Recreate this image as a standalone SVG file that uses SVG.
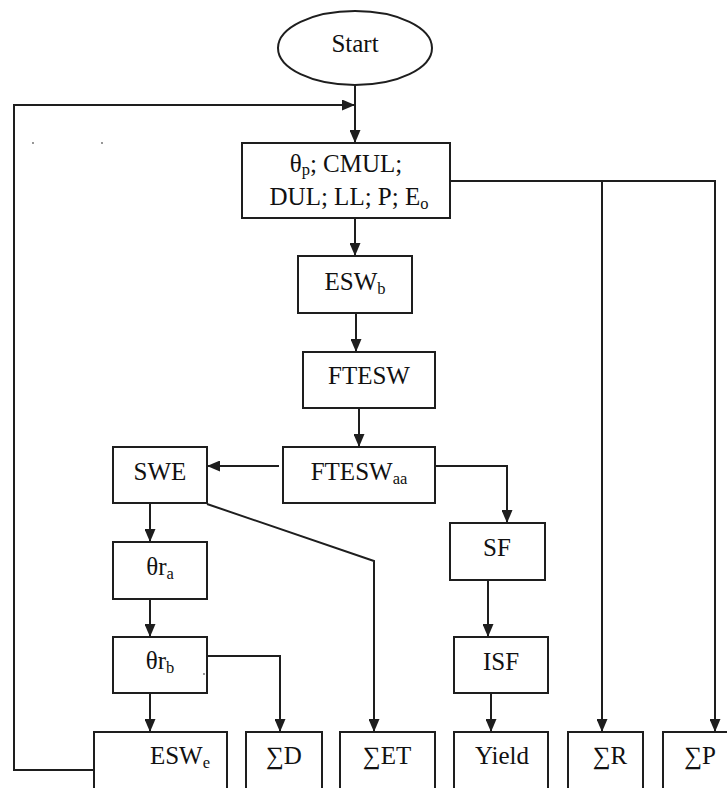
<svg xmlns="http://www.w3.org/2000/svg" width="727" height="788" viewBox="0 0 727 788">
<defs>
<style>
.box{fill:#fff;stroke:#1e1e1e;stroke-width:2}
.ln{fill:none;stroke:#1e1e1e;stroke-width:2}
.t{font-family:"Liberation Serif","Times New Roman",serif;font-size:25px;fill:#111;text-anchor:middle}
.s{font-size:16.5px}
.dot{fill:#666}
</style>
<marker id="ah" viewBox="0 0 13 11" refX="13" refY="5.5" markerWidth="13" markerHeight="11" markerUnits="userSpaceOnUse" orient="auto">
<path d="M0,0 L13,5.5 L0,11 z" fill="#1e1e1e"/>
</marker>
</defs>
<rect width="727" height="788" fill="#fff"/>

<g id="connectors">
<line class="ln" x1="355" y1="85" x2="355" y2="143" marker-end="url(#ah)"/>
<polyline class="ln" points="93,770 14,770 14,105 355,105" marker-end="url(#ah)"/>
<polyline class="ln" points="450,181 715,181 715,732" marker-end="url(#ah)"/>
<line class="ln" x1="602" y1="181" x2="602" y2="732" marker-end="url(#ah)"/>
<line class="ln" x1="355" y1="218" x2="355" y2="256" marker-end="url(#ah)"/>
<line class="ln" x1="356" y1="313" x2="356" y2="352" marker-end="url(#ah)"/>
<line class="ln" x1="359" y1="408" x2="359" y2="447" marker-end="url(#ah)"/>
<line class="ln" x1="279" y1="466" x2="207" y2="466" marker-end="url(#ah)"/>
<polyline class="ln" points="431,466 507,466 507,523" marker-end="url(#ah)"/>
<line class="ln" x1="150" y1="503" x2="150" y2="542" marker-end="url(#ah)"/>
<polyline class="ln" points="207,504 374,561 374,732" marker-end="url(#ah)"/>
<line class="ln" x1="150" y1="599" x2="150" y2="637" marker-end="url(#ah)"/>
<line class="ln" x1="150" y1="693" x2="150" y2="732" marker-end="url(#ah)"/>
<polyline class="ln" points="203,656 280,656 280,732" marker-end="url(#ah)"/>
<line class="ln" x1="488" y1="580" x2="488" y2="637" marker-end="url(#ah)"/>
<line class="ln" x1="491" y1="693" x2="491" y2="732" marker-end="url(#ah)"/>
</g>

<g id="start">
<ellipse class="box" cx="355" cy="48" rx="77" ry="37"/>
<text class="t" x="355" y="52">Start</text>
</g>
<g id="inputs">
<rect class="box" x="242" y="143" width="208" height="75"/>
<text class="t" x="346" y="172">θ<tspan class="s" dy="3">p</tspan><tspan dy="-3">; CMUL;</tspan></text>
<text class="t" x="349" y="205">DUL; LL; P; E<tspan class="s" dy="4">o</tspan></text>
</g>
<g id="eswb">
<rect class="box" x="298" y="256" width="114" height="57"/>
<text class="t" x="355" y="290">ESW<tspan class="s" dy="4">b</tspan></text>
</g>
<g id="ftesw">
<rect class="box" x="303" y="352" width="132" height="56"/>
<text class="t" x="369" y="384">FTESW</text>
</g>
<g id="fteswaa">
<rect class="box" x="283" y="447" width="152" height="56"/>
<text class="t" x="359" y="480">FTESW<tspan class="s" dy="4">aa</tspan></text>
</g>
<g id="swe">
<rect class="box" x="113" y="447" width="94" height="56"/>
<text class="t" x="160" y="480">SWE</text>
</g>
<g id="theta-ra">
<rect class="box" x="113" y="542" width="94" height="57"/>
<text class="t" x="160" y="575">θr<tspan class="s" dy="4">a</tspan></text>
</g>
<g id="theta-rb">
<rect class="box" x="113" y="637" width="94" height="56"/>
<text class="t" x="160" y="669">θr<tspan class="s" dy="4">b</tspan></text>
<circle class="dot" cx="204" cy="674" r="0.9"/>
</g>
<g id="sf">
<rect class="box" x="450" y="523" width="95" height="57"/>
<text class="t" x="497" y="556">SF</text>
</g>
<g id="isf">
<rect class="box" x="454" y="637" width="94" height="56"/>
<text class="t" x="501" y="670">ISF</text>
</g>
<g id="eswe">
<rect class="box" x="94" y="732" width="133" height="62"/>
<text class="t" x="180" y="764">ESW<tspan class="s" dy="4">e</tspan></text>
</g>
<g id="sum-d">
<rect class="box" x="246" y="732" width="76" height="62"/>
<text class="t" x="284" y="764">∑D</text>
</g>
<g id="sum-et">
<rect class="box" x="340" y="732" width="95" height="62"/>
<text class="t" x="387" y="764">∑ET</text>
</g>
<g id="yield">
<rect class="box" x="454" y="732" width="94" height="62"/>
<text class="t" x="502" y="764">Yield</text>
</g>
<g id="sum-r">
<rect class="box" x="568" y="732" width="75" height="62"/>
<text class="t" x="610" y="764">∑R</text>
</g>
<g id="sum-p">
<rect class="box" x="663" y="732" width="72" height="62"/>
<text class="t" x="700" y="764">∑P</text>
</g>
<circle class="dot" cx="33" cy="143" r="0.9"/>
<circle class="dot" cx="102" cy="143" r="0.9"/>
</svg>
